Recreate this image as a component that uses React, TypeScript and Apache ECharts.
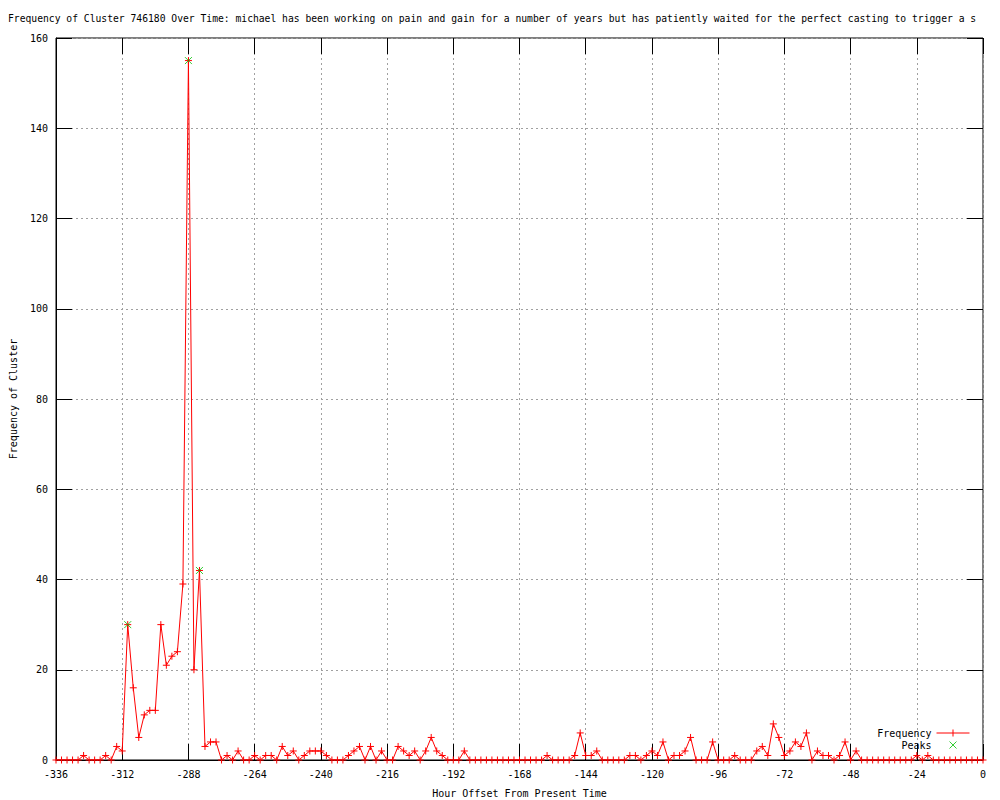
import React, { useEffect, useRef } from "react";
import * as echarts from "echarts";

const titleText =
  "Frequency of Cluster 746180 Over Time: michael has been working on pain and gain for a number of years but has patiently waited for the perfect casting to trigger a s";

const hours = [
  -336, -334, -332, -330, -328, -326, -324, -322, -320, -318, -316, -314, -312,
  -310, -308, -306, -304, -302, -300, -298, -296, -294, -292, -290, -288, -286,
  -284, -282, -280, -278, -276, -274, -272, -270, -268, -266, -264, -262, -260,
  -258, -256, -254, -252, -250, -248, -246, -244, -242, -240, -238, -236, -234,
  -232, -230, -228, -226, -224, -222, -220, -218, -216, -214, -212, -210, -208,
  -206, -204, -202, -200, -198, -196, -194, -192, -190, -188, -186, -184, -182,
  -180, -178, -176, -174, -172, -170, -168, -166, -164, -162, -160, -158, -156,
  -154, -152, -150, -148, -146, -144, -142, -140, -138, -136, -134, -132, -130,
  -128, -126, -124, -122, -120, -118, -116, -114, -112, -110, -108, -106, -104,
  -102, -100, -98, -96, -94, -92, -90, -88, -86, -84, -82, -80, -78, -76, -74,
  -72, -70, -68, -66, -64, -62, -60, -58, -56, -54, -52, -50, -48, -46, -44,
  -42, -40, -38, -36, -34, -32, -30, -28, -26, -24, -22, -20, -18, -16, -14,
  -12, -10, -8, -6, -4, -2, 0,
];

const frequency = [
  0, 0, 0, 0, 0, 1, 0, 0, 0, 1, 0, 3, 2,
  30, 16, 5, 10, 11, 11, 30, 21, 23, 24, 39, 155, 20,
  42, 3, 4, 4, 0, 1, 0, 2, 0, 0, 1, 0, 1,
  1, 0, 3, 1, 2, 0, 1, 2, 2, 2, 1, 0, 0,
  0, 1, 2, 3, 0, 3, 0, 2, 0, 0, 3, 2, 1,
  2, 0, 2, 5, 2, 1, 0, 0, 0, 2, 0, 0, 0,
  0, 0, 0, 0, 0, 0, 0, 0, 0, 0, 0, 1, 0,
  0, 0, 0, 1, 6, 1, 1, 2, 0, 0, 0, 0, 0,
  1, 1, 0, 1, 2, 1, 4, 0, 1, 1, 2, 5, 0,
  0, 0, 4, 0, 0, 0, 1, 0, 0, 0, 2, 3, 1,
  8, 5, 1, 2, 4, 3, 6, 0, 2, 1, 1, 0, 1,
  4, 0, 2, 0, 0, 0, 0, 0, 0, 0, 0, 0, 0,
  1, 0, 1, 0, 0, 0, 0, 0, 0, 0, 0, 0, 0,
];

const peakHours = [-310, -288, -284];
const peakValues = [30, 155, 42];

const xTitle = "Hour Offset From Present Time";
const yTitle = "Frequency of Cluster";

const FONT = "DejaVu Sans Mono";
const PLUS = "path://M0,3.5L7,3.5M3.5,0L3.5,7";
const CROSS = "path://M0,0L7,7M7,0L0,7";
const LEGEND_FREQ = "path://M0,0M33,8M0,4L33,4M16.5,0.5L16.5,7.5";
const LEGEND_PEAK = "path://M0,0M33,8M13,0.5L20,7.5M20,0.5L13,7.5";

const TICK_LEN = 16;

const mkGridLine = () => ({
  show: true,
  lineStyle: { color: "#a0a0a0", width: 1, type: [2, 3] as any },
});
const black = () => ({ color: "#000000", width: 1 });

export default function App() {
  const ref = useRef<HTMLDivElement>(null);

  useEffect(() => {
    if (!ref.current) return;
    const chart = echarts.init(ref.current, null, { renderer: "svg" });

    const freqData = hours.map((h, i) => [h, frequency[i]]);
    const peakData = peakHours.map((h, i) => [h, peakValues[i]]);

    chart.setOption({
      animation: false,
      backgroundColor: "#fff",
      textStyle: { fontFamily: FONT },
      title: {
        text: titleText,
        left: 8,
        top: 13,
        padding: 0,
        textStyle: { fontFamily: FONT, fontSize: 9.7, fontWeight: "normal", color: "#000" },
      },
      grid: {
        left: 56,
        right: 17,
        top: 38,
        bottom: 40,
        containLabel: false,
        outerBoundsMode: "none",
        show: true,
        borderColor: "#000",
        borderWidth: 1,
        backgroundColor: "transparent",
      },
      legend: {
        orient: "vertical",
        right: 30,
        top: 728,
        align: "right",
        padding: 0,
        itemWidth: 33,
        itemHeight: 8,
        itemGap: 2,
        textStyle: { fontFamily: FONT, fontSize: 10, color: "#000" },
        data: [
          {
            name: "Frequency",
            icon: LEGEND_FREQ,
            itemStyle: { color: "transparent", borderColor: "#ff0000", borderWidth: 1 },
          },
          {
            name: "Peaks",
            icon: LEGEND_PEAK,
            itemStyle: { color: "transparent", borderColor: "#00c000", borderWidth: 1 },
          },
        ],
      },
      xAxis: [
        {
          type: "value",
          min: -336,
          max: 0,
          interval: 24,
          position: "bottom",
          name: xTitle,
          nameLocation: "middle",
          nameGap: 28,
          nameTextStyle: { fontFamily: FONT, fontSize: 10, color: "#000" },
          axisLine: { show: true, onZero: false, lineStyle: black() },
          axisTick: { show: true, inside: true, length: TICK_LEN, lineStyle: black() },
          axisLabel: { fontFamily: FONT, fontSize: 10, color: "#000", margin: 9 },
          splitLine: mkGridLine(),
        },
        {
          type: "value",
          min: -336,
          max: 0,
          interval: 24,
          position: "top",
          offset: -TICK_LEN,
          axisLine: { show: false, onZero: false },
          axisTick: { show: true, inside: false, length: TICK_LEN, lineStyle: black() },
          axisLabel: { show: false },
          splitLine: { show: false },
        },
      ],
      yAxis: [
        {
          type: "value",
          min: 0,
          max: 160,
          interval: 20,
          position: "left",
          name: yTitle,
          nameLocation: "middle",
          nameGap: 38,
          nameRotate: 90,
          nameTextStyle: { fontFamily: FONT, fontSize: 10, color: "#000" },
          axisLine: { show: true, onZero: false, lineStyle: black() },
          axisTick: { show: true, inside: true, length: TICK_LEN, lineStyle: black() },
          axisLabel: { fontFamily: FONT, fontSize: 10, color: "#000", margin: 8 },
          splitLine: mkGridLine(),
        },
        {
          type: "value",
          min: 0,
          max: 160,
          interval: 20,
          position: "right",
          offset: -TICK_LEN,
          axisLine: { show: false, onZero: false },
          axisTick: { show: true, inside: false, length: TICK_LEN, lineStyle: black() },
          axisLabel: { show: false },
          splitLine: { show: false },
        },
      ],
      series: [
        {
          name: "Frequency",
          type: "line",
          xAxisIndex: 0,
          yAxisIndex: 0,
          data: freqData,
          symbol: PLUS,
          symbolSize: 7,
          showAllSymbol: true,
          lineStyle: { color: "#ff0000", width: 1 },
          itemStyle: { color: "#ff0000", borderColor: "#ff0000", borderWidth: 1 },
          emphasis: { disabled: true },
          z: 3,
        },
        {
          name: "Peaks",
          type: "scatter",
          xAxisIndex: 0,
          yAxisIndex: 0,
          data: peakData,
          symbol: CROSS,
          symbolSize: 7,
          itemStyle: { color: "#00c000", borderColor: "#00c000", borderWidth: 1 },
          emphasis: { disabled: true },
          z: 4,
        },
      ],
    });

    return () => chart.dispose();
  }, []);

  return (
    <div
      ref={ref}
      style={{
        position: "fixed",
        left: 0,
        top: 0,
        width: 1000,
        height: 800,
        overflow: "hidden",
        background: "#fff",
      }}
    />
  );
}
